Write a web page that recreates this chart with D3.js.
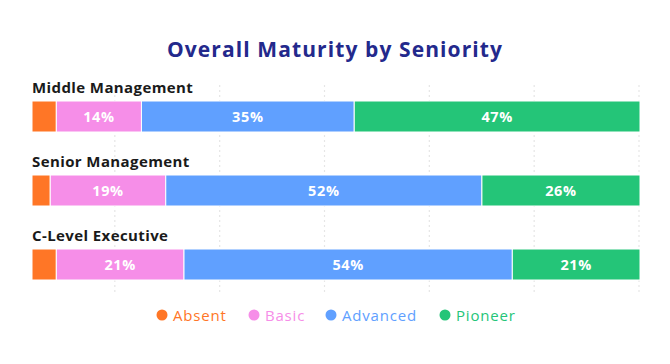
<!DOCTYPE html>
<html>
<head>
<meta charset="utf-8">
<script src="https://cdn.jsdelivr.net/npm/d3@7"></script>
<style>
  body { margin: 0; background: #fff; }
  svg { display: block; font-family: "Open Sans", "Noto Sans", sans-serif; }
</style>
</head>
<body>
<svg id="chart"></svg>
<script>
var svg_width = 670
var svg_height = 364

// data
var groups = ["Middle Management", "Senior Management", "C-Level Executive"]
var levels = ["Absent", "Basic", "Advanced", "Pioneer"]
var absent = [4, 3, 4]
var basic = [14, 19, 21]
var advanced = [35, 52, 54]
var pioneer = [47, 26, 21]
var gridTicks = [1, 2, 3, 4, 5, 6]

var colors = ["#ff7626", "#f68ee8", "#60a0ff", "#24c578"]

var rows = groups.map(function(g, i) {
  var vals = [absent[i], basic[i], advanced[i], pioneer[i]]
  var x0 = 0
  return { name: g, segs: vals.map(function(v, j) {
    var s = { key: levels[j], v: v, x0: x0, x1: x0 + v }
    x0 += v
    return s
  }) }
})

var chart = d3.select("#chart")
.attr("width", svg_width)
.attr("height", svg_height)

var x = d3.scaleLinear().domain([0, 100]).range([32, 640])
var gx = d3.scaleLinear().domain([0, 6]).range([10, 639])
var y = d3.scaleBand().domain(groups).range([79, 301]).paddingInner(0).paddingOuter(0)
var color = d3.scaleOrdinal().domain(levels).range(colors)

// title
chart.append("text")
.attr("x", 335)
.attr("y", 57)
.attr("text-anchor", "middle")
.attr("font-size", "21px")
.attr("font-weight", "700")
.attr("letter-spacing", "1.1px")
.attr("fill", "#23298c")
.text("Overall Maturity by Seniority")

// dotted grid
chart.append("g")
.selectAll("line")
.data(gridTicks)
.enter()
.append("line")
.attr("x1", function(d) { return gx(d) })
.attr("x2", function(d) { return gx(d) })
.attr("y1", 85)
.attr("y2", 294)
.attr("stroke", "#e6e6e6")
.attr("stroke-width", 1.2)
.attr("stroke-dasharray", "2,3")

var barH = 31

var row = chart.selectAll("g.row")
.data(rows)
.enter()
.append("g")
.attr("class", "row")
.attr("transform", function(d) { return "translate(0," + y(d.name) + ")" })

row.append("text")
.attr("x", 32)
.attr("y", 14)
.attr("font-size", "15px")
.attr("font-weight", "700")
.attr("letter-spacing", "0.4px")
.attr("fill", "#1a1a1a")
.text(function(d) { return d.name })

row.selectAll("rect")
.data(function(d) { return d.segs })
.enter()
.append("rect")
.attr("x", function(d) { return x(d.x0) })
.attr("y", 22)
.attr("width", function(d) { return x(d.x1) - x(d.x0) })
.attr("height", barH)
.attr("fill", function(d) { return color(d.key) })
.attr("stroke", "#fff")
.attr("stroke-width", 1)

row.selectAll("text.val")
.data(function(d) { return d.segs.filter(function(s) { return s.key != "Absent" }) })
.enter()
.append("text")
.attr("class", "val")
.attr("x", function(d) { return (x(d.x0) + x(d.x1)) / 2 })
.attr("y", 22 + barH / 2 + 5)
.attr("text-anchor", "middle")
.attr("font-size", "14.5px")
.attr("font-weight", "700")
.attr("letter-spacing", "0.6px")
.attr("fill", "#fff")
.text(function(d) { return d.v + "%" })

// legend
var legendX = [162, 254, 331, 445]
var legend = chart.selectAll("g.legend")
.data(levels)
.enter()
.append("g")
.attr("class", "legend")
.attr("transform", function(d, i) { return "translate(" + legendX[i] + ",315)" })

legend.append("circle")
.attr("r", 5.5)
.attr("fill", function(d) { return color(d) })

legend.append("text")
.attr("x", 11)
.attr("y", 5.5)
.attr("font-size", "15px")
.attr("letter-spacing", "0.8px")
.attr("fill", function(d) { return color(d) })
.text(function(d) { return d })
</script>
</body>
</html>
